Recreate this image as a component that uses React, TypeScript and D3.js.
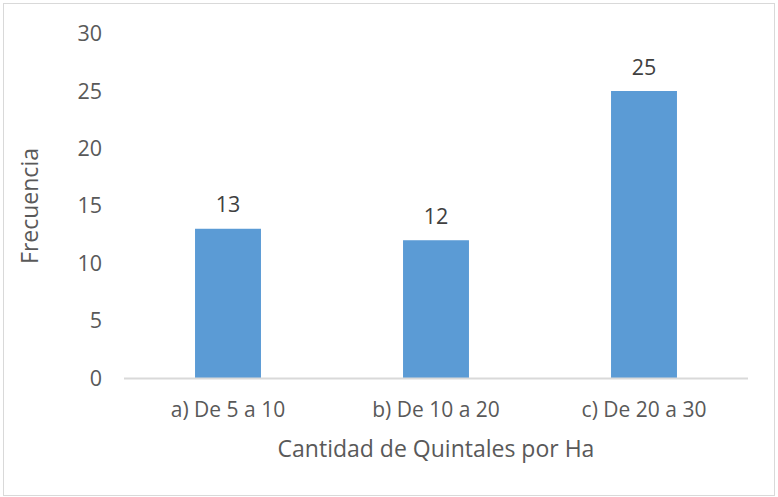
import React from "react";
import * as d3 from "d3";

const categories = ["a) De 5 a 10", "b) De 10 a 20", "c) De 20 a 30"];
const values = [13, 12, 25];
const yTicks = [0, 5, 10, 15, 20, 25, 30];

export default function App() {
  const W = 778, H = 497;
  const left = 124, right = 748, top = 33.6, bottom = 378;
  const x = d3.scaleBand<string>().domain(categories).range([left, right]).paddingInner(0.683).paddingOuter(0.3415);
  const y = d3.scaleLinear().domain([0, 30]).range([bottom, top]);
  const font = "'Open Sans', sans-serif";
  return (
    <svg width={W} height={H} style={{ position: "absolute", left: 0, top: 0 }}>
      <rect x={3.5} y={3.5} width={771} height={492} fill="#fff" stroke="#d9d9d9" strokeWidth={1} />
      {values.map((v, i) => (
        <rect key={i} x={x(categories[i])} y={y(v)} width={x.bandwidth()} height={bottom - y(v)} fill="#5B9BD5" />
      ))}
      <line x1={left} x2={right} y1={bottom + 0.5} y2={bottom + 0.5} stroke="#d9d9d9" strokeWidth={2} />
      {yTicks.map((t) => (
        <text key={t} x={102} y={y(t)} dy="0.35em" textAnchor="end" fontFamily={font} fontSize={21.5} fill="#595959">{t}</text>
      ))}
      {categories.map((c) => (
        <text key={c} x={(x(c) as number) + x.bandwidth() / 2} y={410} dy="0.35em" textAnchor="middle" fontFamily={font} fontSize={21} fill="#595959">{c}</text>
      ))}
      {values.map((v, i) => (
        <text key={i} x={(x(categories[i]) as number) + x.bandwidth() / 2} y={y(v) - 24} dy="0.35em" textAnchor="middle" fontFamily={font} fontSize={21.5} fill="#404040">{v}</text>
      ))}
      <text x={436} y={449} dy="0.35em" textAnchor="middle" fontFamily={font} fontSize={23} fill="#595959">Cantidad de Quintales por Ha</text>
      <text transform={`translate(30,206) rotate(-90)`} dy="0.35em" textAnchor="middle" fontFamily={font} fontSize={23} fill="#595959">Frecuencia</text>
    </svg>
  );
}
